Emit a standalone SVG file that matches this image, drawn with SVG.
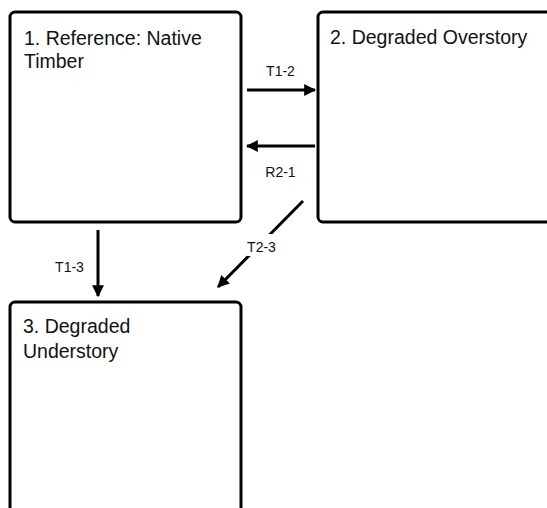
<svg xmlns="http://www.w3.org/2000/svg" width="547" height="508" viewBox="0 0 547 508">
<style>
.box{fill:#fff;stroke:#000;stroke-width:3}
.t{font-family:"Liberation Sans",Arial,sans-serif;font-size:19.5px;fill:#111}
.l{font-family:"Liberation Sans",Arial,sans-serif;font-size:14px;fill:#111;text-anchor:middle}
.c{stroke:#000;stroke-width:3;fill:none;marker-end:url(#ah)}
</style>
<defs>
<marker id="ah" viewBox="0 0 10 10" refX="9" refY="5" markerWidth="4" markerHeight="4" orient="auto" markerUnits="strokeWidth">
<path d="M0,0 L10,5 L0,10 Z" fill="#000"/>
</marker>
</defs>
<rect width="547" height="508" fill="#fff"/>
<g id="node1">
<rect class="box" x="10" y="12" width="231" height="210" rx="5"/>
<text class="t" x="24" y="45">1. Reference: Native</text>
<text class="t" x="24" y="68">Timber</text>
</g>
<g id="node2">
<rect class="box" x="318" y="12" width="240" height="210" rx="5"/>
<text class="t" x="330" y="44">2. Degraded Overstory</text>
</g>
<g id="node3">
<rect class="box" x="10" y="302" width="231" height="220" rx="5"/>
<text class="t" x="23" y="333">3. Degraded</text>
<text class="t" x="23" y="358">Understory</text>
</g>
<g id="connectors">
<path class="c" d="M247,90 H315"/>
<text class="l" x="280.5" y="76">T1-2</text>
<path class="c" d="M315,146 H247"/>
<text class="l" x="280.5" y="177">R2-1</text>
<path class="c" d="M98,230 V296"/>
<text class="l" x="69.5" y="272">T1-3</text>
<path class="c" d="M303,201 L218,287"/>
<rect x="247" y="234" width="30" height="22" fill="#fff"/>
<text class="l" x="261.5" y="252">T2-3</text>
</g>
</svg>
